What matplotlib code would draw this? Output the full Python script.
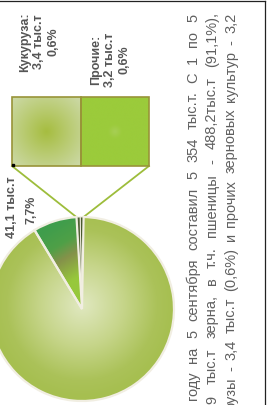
import numpy as np
import matplotlib
matplotlib.use("Agg")
import matplotlib.pyplot as plt
from matplotlib.colors import LinearSegmentedColormap
from matplotlib.patches import Rectangle

W, H = 271, 406

# grain harvest, thousand tonnes
crops = ["Прочие", "Кукуруза", "Ячмень", "Пшеница"]
harvest = [3.2, 3.4, 41.1, 488.2]
explode = [0.06, 0.06, 0.05, 0.0]

labels_small = ["Кукуруза:\n3,4 тыс.т\n0,6%", "Прочие:\n3,2 тыс.т\n0,6%"]
label_barley = ["41,1 тыс.т", "7,7%"]

body_lines = [
    "году на 5 сентября составил 5 354 тыс.т. С 1 по 5",
    ",9 тыс.т зерна, в т.ч. пшеницы - 488,2тыс.т (91,1%),",
    "рузы - 3,4 тыс.т (0,6%) и прочих зерновых культур - 3,2",
]

plt.rcParams['font.family'] = ['Liberation Sans', 'DejaVu Sans']

fig = plt.figure(figsize=(W / 100, H / 100), dpi=100)
ax = fig.add_axes([0, 0, 1, 1])

cx, cy, R = 82, 96, 92
edge = '#f1eee2'
wedges, _ = ax.pie(harvest, explode=explode, center=(cx, cy), radius=R,
                   startangle=89,
                   colors=['#4a5a2e', '#4f6034', 'none', 'none'],
                   wedgeprops=dict(edgecolor=edge, linewidth=1.6, zorder=3))
wedges[0].set_linewidth(0.7)
wedges[1].set_linewidth(0.7)


def gradient_fill(patch, func, cmap, extent, z=2):
    x0, x1, y0, y1 = extent
    X, Y = np.meshgrid(np.linspace(x0, x1, 220), np.linspace(y0, y1, 220))
    im = ax.imshow(func(X, Y), extent=extent, origin='lower', cmap=cmap,
                   vmin=0, vmax=1, zorder=z, interpolation='bilinear')
    im.set_clip_path(patch)


# wheat: light radial centre
wheat_cmap = LinearSegmentedColormap.from_list(
    'wheat', [(0, '#e0e8c0'), (0.45, '#c6d58a'), (0.82, '#abc259'), (1, '#a6bf50')])
gradient_fill(wedges[3],
              lambda X, Y: np.clip(np.hypot(X - cx, Y - (cy + 4)) / R, 0, 1),
              wheat_cmap, (cx - R - 5, cx + R + 5, cy - R - 5, cy + R + 5))

# barley: green -> olive -> lime diagonal
bw = wedges[2]
bcx, bcy = bw.center
pg = np.array([bcx + 0.95 * R * np.cos(np.radians(112)), bcy + 0.95 * R * np.sin(np.radians(112))])
pl = np.array([bcx + 0.35 * R * np.cos(np.radians(96)), bcy + 0.35 * R * np.sin(np.radians(96))])
d = pl - pg
barley_cmap = LinearSegmentedColormap.from_list(
    'barley', [(0, '#3f9d4c'), (0.35, '#4fa047'), (0.6, '#85924a'), (1, '#97c83b')])
gradient_fill(bw,
              lambda X, Y: np.clip(((X - pg[0]) * d[0] + (Y - pg[1]) * d[1]) / (d @ d), 0, 1),
              barley_cmap, (bcx - R - 5, bcx + 10, bcy - 5, bcy + R + 5))

# zoom box
bx0, bx1, bxm = 12, 149, 81
by0, by1 = H - 167, H - 98
left = Rectangle((bx0, by0), bxm - bx0, by1 - by0, facecolor='none',
                 edgecolor='#989438', linewidth=1.2, zorder=4)
right = Rectangle((bxm, by0), bx1 - bxm, by1 - by0, facecolor='none',
                  edgecolor='#989438', linewidth=1.2, zorder=4)
ax.add_patch(left)
ax.add_patch(right)
lcx, lcy = (bx0 + bxm) / 2, (by0 + by1) / 2
box_cmap = LinearSegmentedColormap.from_list('boxl', ['#a6bd40', '#b9cb72', '#cbd8a3'])
gradient_fill(left, lambda X, Y: np.clip(np.hypot(X - lcx, Y - lcy) / 46, 0, 1),
              box_cmap, (bx0, bxm, by0, by1))
rcx = (bxm + bx1) / 2
box_cmap2 = LinearSegmentedColormap.from_list('boxr', ['#a7cf55', '#9ccb3c', '#9bcb3b'])
gradient_fill(right, lambda X, Y: np.clip(np.hypot(X - rcx, Y - lcy) / 14, 0, 1),
              box_cmap2, (bxm, bx1, by0, by1))
ax.plot([bx0 + 1], [by0 + 1], marker='s', markersize=1.5, color='black', zorder=5)

# connector lines to the small slices
corn, other = wedges[1], wedges[0]
p_left = (corn.center[0] + R * np.cos(np.radians(corn.theta2)),
          corn.center[1] + R * np.sin(np.radians(corn.theta2)))
p_right = (other.center[0] + R * np.cos(np.radians(other.theta1)),
           other.center[1] + R * np.sin(np.radians(other.theta1)))
ax.plot([bx0, p_left[0]], [by0, p_left[1]], color='#9dbd3b', lw=1.3, zorder=1)
ax.plot([bx1, p_right[0]], [by0, p_right[1]], color='#9dbd3b', lw=1.3, zorder=1)

# labels
lab = dict(rotation=90, ha='center', va='center', fontsize=9,
           fontweight='bold', color='#555555', multialignment='center',
           linespacing=1.25)
ax.text(39, H - 42, labels_small[0], **lab)
ax.text(110, H - 60, labels_small[1], **lab)
ax.text(12, H - 207, label_barley[0], **lab)
ax.text(31, H - 210, label_barley[1], **lab)

# justified body text, cut by the frame
renderer = fig.canvas.get_renderer()
FS = 10.5
line_x = [197, 216, 235]
line_bottom = [400, 406, 410]
line_top = [14, 12, 13]
for text, x, yb, yt in zip(body_lines, line_x, line_bottom, line_top):
    words = text.split(' ')
    lens = []
    for w in words:
        t = ax.text(0, 0, w, fontsize=FS)
        lens.append(t.get_window_extent(renderer).width)
        t.remove()
    span = yb - yt
    gap = (span - sum(lens)) / (len(words) - 1)
    y = H - yb
    for w, L in zip(words, lens):
        ax.text(x, y, w, fontsize=FS, color='#606060', rotation=90,
                rotation_mode='anchor', ha='left', va='baseline')
        y += L + gap

# frame
ax.plot([0, 265], [H - 2, H - 2], color='#222222', lw=0.9)
ax.plot([265, 265], [H - 2, 0], color='#222222', lw=0.9)

ax.set_xlim(0, W)
ax.set_ylim(0, H)
ax.axis('off')
fig.savefig('out.png', dpi=100)
